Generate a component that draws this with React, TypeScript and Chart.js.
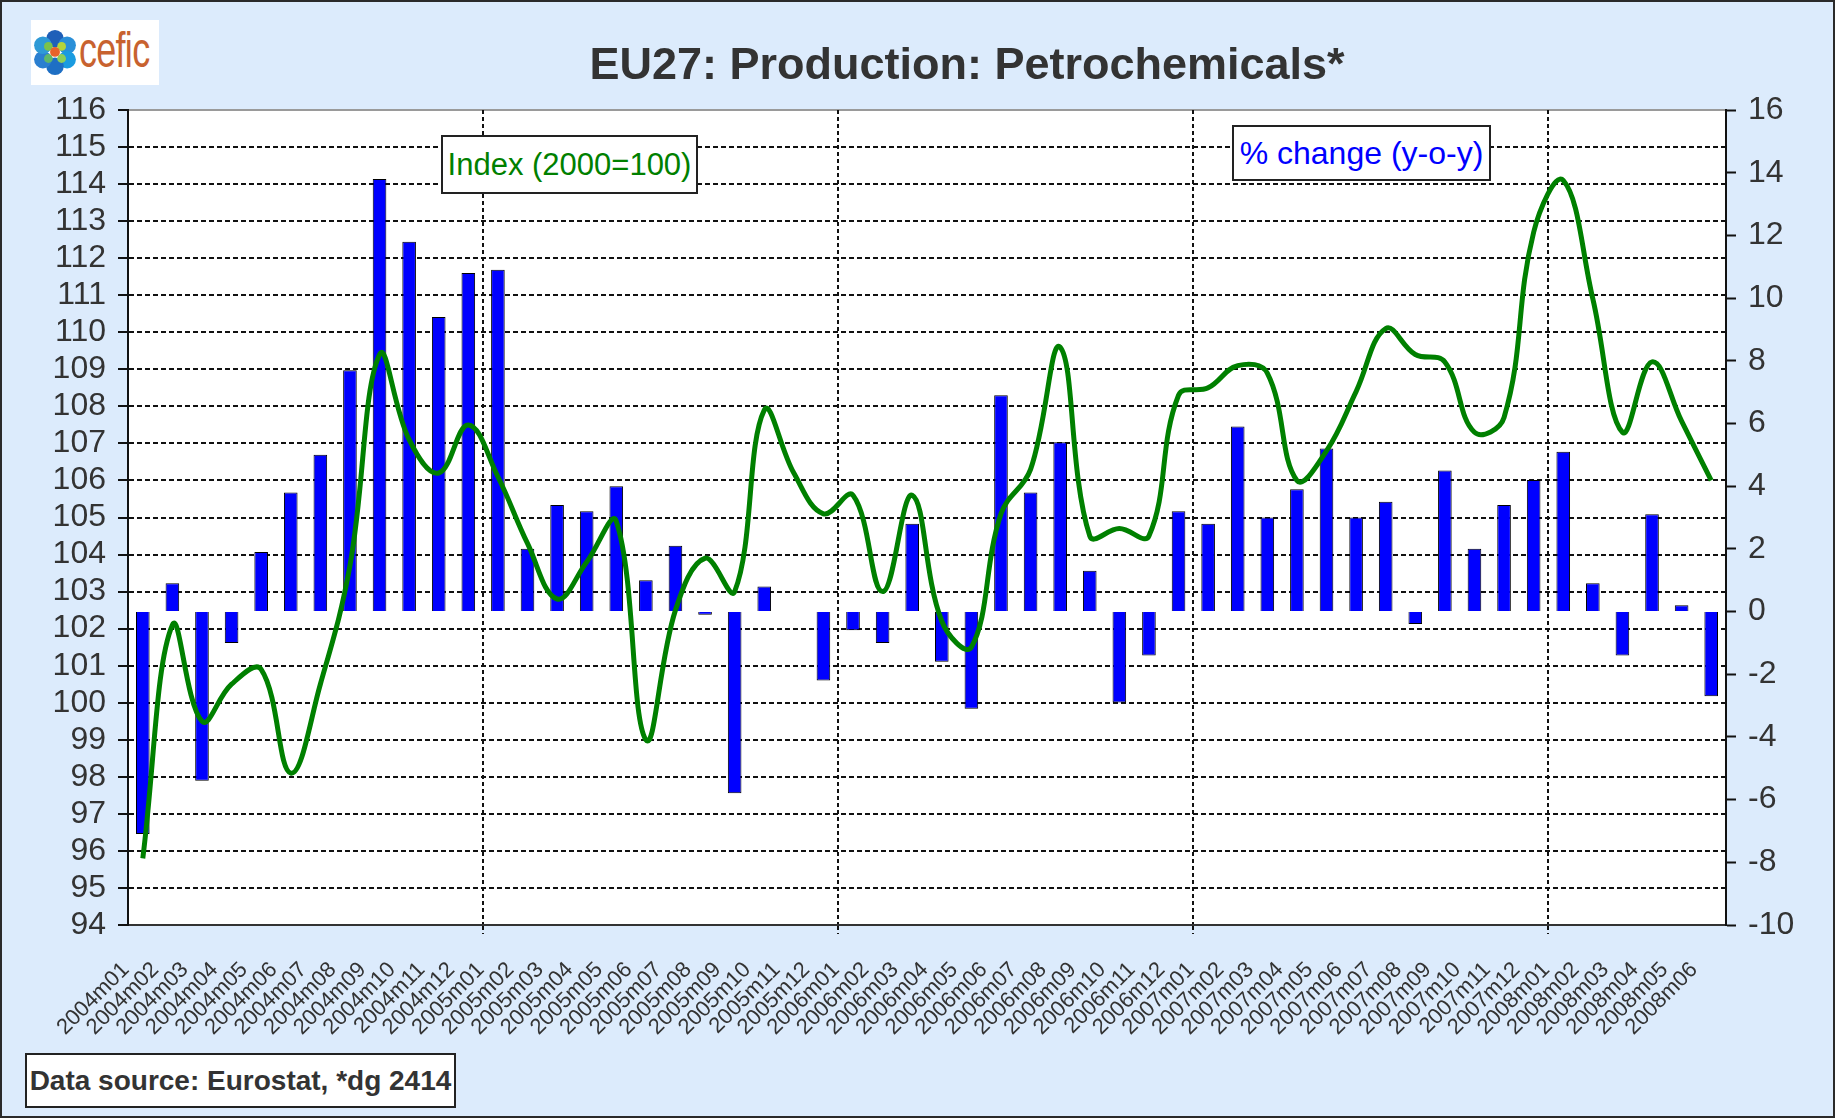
import React, { useEffect, useRef } from "react";
import { Chart, registerables } from "chart.js";

Chart.register(...registerables);

const categories = [
  "2004m01", "2004m02", "2004m03", "2004m04", "2004m05", "2004m06",
  "2004m07", "2004m08", "2004m09", "2004m10", "2004m11", "2004m12",
  "2005m01", "2005m02", "2005m03", "2005m04", "2005m05", "2005m06",
  "2005m07", "2005m08", "2005m09", "2005m10", "2005m11", "2005m12",
  "2006m01", "2006m02", "2006m03", "2006m04", "2006m05", "2006m06",
  "2006m07", "2006m08", "2006m09", "2006m10", "2006m11", "2006m12",
  "2007m01", "2007m02", "2007m03", "2007m04", "2007m05", "2007m06",
  "2007m07", "2007m08", "2007m09", "2007m10", "2007m11", "2007m12",
  "2008m01", "2008m02", "2008m03", "2008m04", "2008m05", "2008m06",
];

// Index (2000=100), left axis
const indexValues = [
  95.8, 102.1, 99.5, 100.5, 100.9, 98.1, 100.5, 103.7, 109.4, 107.1, 106.2, 107.5,
  106.1, 104.3, 102.8, 103.8, 104.9, 99.0, 102.5, 103.9, 103.0, 107.9, 106.2, 105.1,
  105.6, 103.0, 105.6, 102.2, 101.5, 105.1, 106.3, 109.6, 104.5, 104.7, 104.5, 108.3,
  108.5, 109.1, 108.9, 106.0, 106.8, 108.4, 110.1, 109.4, 109.2, 107.3, 107.7, 112.7,
  114.1, 110.9, 107.3, 109.2, 107.6, 106.0,
];

// % change (y-o-y), right axis
const pctChange: (number | null)[] = [
  -7.1, 0.9, -5.4, -1.0, 1.9, 3.8, 5.0, 7.7, 13.8, 11.8, 9.4, 10.8,
  10.9, 2.0, 3.4, 3.2, 4.0, 1.0, 2.1, -0.1, -5.8, 0.8, null, -2.2,
  -0.6, -1.0, 2.8, -1.6, -3.1, 6.9, 3.8, 5.4, 1.3, -2.9, -1.4, 3.2,
  2.8, 5.9, 3.0, 3.9, 5.2, 3.0, 3.5, -0.4, 4.5, 2.0, 3.4, 4.2,
  5.1, 0.9, -1.4, 3.1, 0.2, -2.7,
];

const leftAxis = { min: 94, max: 116, step: 1 };
const rightAxis = { min: -10, max: 16, step: 2 };

const FONT = "'Liberation Sans', Arial, Helvetica, sans-serif";

const areaPlugin = {
  id: "areaBg",
  beforeDraw(chart: any) {
    const { ctx, chartArea: a } = chart;
    ctx.save();
    ctx.fillStyle = "#ffffff";
    ctx.fillRect(a.left, a.top, a.right - a.left, a.bottom - a.top);
    ctx.strokeStyle = "#9a9a9a";
    ctx.lineWidth = 2;
    ctx.beginPath();
    ctx.moveTo(a.left, a.top);
    ctx.lineTo(a.right, a.top);
    ctx.stroke();
    ctx.restore();
  },
};

function ChartCanvas() {
  const ref = useRef<HTMLCanvasElement | null>(null);
  useEffect(() => {
    if (!ref.current) return;
    const chart = new Chart(ref.current, {
      type: "bar",
      data: {
        labels: categories,
        datasets: [
          {
            type: "line",
            label: "Index (2000=100)",
            data: indexValues,
            yAxisID: "y",
            borderColor: "#008000",
            borderWidth: 5,
            pointRadius: 0,
            tension: 0.4,
            fill: false,
            order: 0,
          } as any,
          {
            type: "bar",
            label: "% change (y-o-y)",
            data: pctChange,
            yAxisID: "y2",
            backgroundColor: "#0000ff",
            borderColor: "#000000",
            borderWidth: 1,
            barPercentage: 0.46,
            categoryPercentage: 1,
            order: 1,
          } as any,
        ],
      },
      options: {
        animation: false,
        responsive: false,
        devicePixelRatio: 1,
        layout: { padding: { top: 108, left: 0, right: 0, bottom: 75 } },
        plugins: {
          legend: { display: false },
          tooltip: { enabled: false },
          title: { display: false },
        },
        scales: {
          x: {
            type: "category",
            offset: true,
            afterFit: (s: any) => {
              s.height = 120;
            },
            grid: {
              offset: true,
              color: (c: any) => (c.index > 0 && c.index % 12 === 0 ? "#111111" : "rgba(0,0,0,0)"),
              tickColor: (c: any) => (c.index > 0 && c.index % 12 === 0 ? "#111111" : "rgba(0,0,0,0)"),
              lineWidth: 2,
              tickWidth: 2,
              tickLength: 9,
              tickBorderDash: [4, 3],
            },
            border: { display: true, color: "#333333", width: 2, dash: [4, 3] },
            ticks: {
              autoSkip: false,
              maxRotation: 45,
              minRotation: 45,
              padding: 23,
              labelOffset: -17,
              color: "#333333",
              font: { family: FONT, size: 22 },
            },
          },
          y: {
            position: "left",
            min: leftAxis.min,
            max: leftAxis.max,
            afterFit: (s: any) => {
              s.width = 126;
            },
            grid: {
              color: (c: any) =>
                c.tick && (c.tick.value === leftAxis.min || c.tick.value === leftAxis.max)
                  ? "rgba(0,0,0,0)"
                  : "#111111",
              lineWidth: 2,
              tickColor: "#111111",
              tickWidth: 2,
              tickLength: 10,
            },
            border: { display: true, color: "#111111", width: 2, dash: [5, 3] },
            ticks: {
              stepSize: leftAxis.step,
              autoSkip: false,
              padding: 12,
              color: "#333333",
              font: { family: FONT, size: 32 },
            },
          },
          y2: {
            position: "right",
            min: rightAxis.min,
            max: rightAxis.max,
            afterFit: (s: any) => {
              s.width = 111;
            },
            grid: {
              drawOnChartArea: false,
              tickColor: "#111111",
              tickWidth: 2,
              tickLength: 10,
            },
            border: { display: true, color: "#111111", width: 2 },
            ticks: {
              stepSize: rightAxis.step,
              autoSkip: false,
              padding: 12,
              color: "#333333",
              font: { family: FONT, size: 32 },
            },
          },
        },
      } as any,
      plugins: [areaPlugin],
    });
    return () => chart.destroy();
  }, []);
  return (
    <canvas
      ref={ref}
      width={1835}
      height={1118}
      style={{ position: "absolute", left: 0, top: 0, width: 1835, height: 1118 }}
    />
  );
}

function Logo() {
  const hexes = [
    { x: 20, y: 8, c: "#1f5fb8" },
    { x: 31, y: 14, c: "#2a8fd8" },
    { x: 31, y: 27, c: "#1a9be0" },
    { x: 20, y: 33, c: "#1e6fc4" },
    { x: 9, y: 27, c: "#2b7fd0" },
    { x: 9, y: 14, c: "#2f9ad6" },
  ];
  return (
    <div
      style={{
        position: "absolute",
        left: 29,
        top: 18,
        width: 128,
        height: 65,
        background: "#ffffff",
        display: "flex",
        alignItems: "center",
        overflow: "hidden",
      }}
    >
      <svg width="44" height="54" viewBox="0 0 40 44" style={{ marginLeft: 2, flex: "none" }}>
        {hexes.map((h, i) => (
          <circle key={i} cx={h.x} cy={h.y + 1} r={8} fill={h.c} />
        ))}
        <circle cx={14} cy={16} r={4} fill="#7cc24a" />
        <circle cx={26} cy={16} r={4} fill="#b5d43a" />
        <circle cx={14} cy={27} r={4} fill="#5fb86a" />
        <circle cx={26} cy={27} r={4} fill="#8ccf5a" />
        <circle cx={20} cy={21} r={4.5} fill="#e8632b" />
      </svg>
      <span
        style={{
          fontFamily: FONT,
          fontSize: 50,
          color: "#c8622f",
          marginLeft: 2,
          marginTop: -6,
          letterSpacing: -1,
          transform: "scaleX(0.72)",
          transformOrigin: "left center",
          lineHeight: 1,
          whiteSpace: "nowrap",
        }}
      >
        cefic
      </span>
    </div>
  );
}

export default function App() {
  return (
    <div
      style={{
        position: "absolute",
        left: 0,
        top: 0,
        width: 1835,
        height: 1118,
        boxSizing: "border-box",
        border: "2px solid #2a2a2a",
        background: "#dcebfc",
        overflow: "hidden",
        fontFamily: FONT,
      }}
    >
      <ChartCanvas />
      <Logo />
      <div
        style={{
          position: "absolute",
          left: 465,
          width: 1000,
          top: 37,
          textAlign: "center",
          fontSize: 45,
          fontWeight: "bold",
          color: "#333333",
          lineHeight: "50px",
          whiteSpace: "nowrap",
        }}
      >
        EU27: Production: Petrochemicals*
      </div>
      <div
        style={{
          position: "absolute",
          left: 439,
          top: 133,
          width: 257,
          height: 59,
          boxSizing: "border-box",
          background: "#ffffff",
          border: "2px solid #222",
          color: "#008000",
          fontSize: 31,
          display: "flex",
          alignItems: "center",
          justifyContent: "center",
          whiteSpace: "nowrap",
        }}
      >
        Index (2000=100)
      </div>
      <div
        style={{
          position: "absolute",
          left: 1230,
          top: 123,
          width: 259,
          height: 56,
          boxSizing: "border-box",
          background: "#ffffff",
          border: "2px solid #222",
          color: "#0000ff",
          fontSize: 32,
          display: "flex",
          alignItems: "center",
          justifyContent: "center",
          whiteSpace: "nowrap",
        }}
      >
        % change (y-o-y)
      </div>
      <div
        style={{
          position: "absolute",
          left: 23,
          top: 1051,
          width: 431,
          height: 55,
          boxSizing: "border-box",
          background: "#ffffff",
          border: "2px solid #222",
          color: "#333333",
          fontSize: 28,
          fontWeight: "bold",
          display: "flex",
          alignItems: "center",
          justifyContent: "center",
          whiteSpace: "nowrap",
        }}
      >
        Data source: Eurostat, *dg 2414
      </div>
    </div>
  );
}
